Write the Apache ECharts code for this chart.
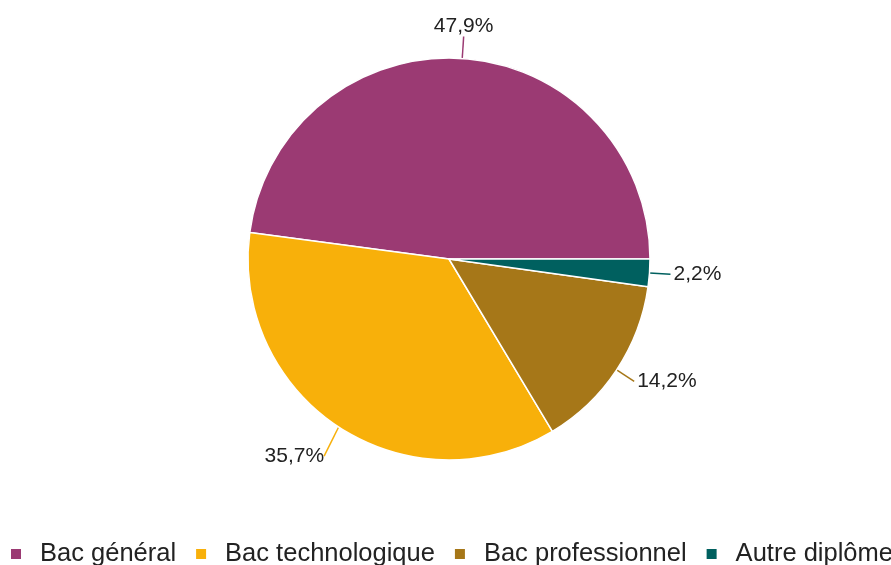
<!DOCTYPE html>
<html><head><meta charset="utf-8">
<script src="https://cdn.jsdelivr.net/npm/echarts@6/dist/echarts.min.js"></script>
<style>html,body{margin:0;padding:0;background:#fff}#c{width:891px;height:565px}</style>
</head><body><div id="c"></div>
<script>
var categories = ['Bac général', 'Bac technologique', 'Bac professionnel', 'Autre diplôme'];
var values = [47.9, 35.7, 14.2, 2.2];
var colors = ['#9b3a73', '#f8b00a', '#a67718', '#00605f'];

var chart = echarts.init(document.getElementById('c'), null, {renderer: 'canvas'});
chart.setOption({
  animation: false,
  color: colors,
  legend: {
    data: categories,
    left: 4, top: 536, width: 3000,
    itemWidth: 12, itemHeight: 12, itemGap: 18,
    icon: 'rect',
    textStyle: {fontFamily: 'Liberation Sans, Arial', fontSize: 25.5, color: '#222', padding: [0, 0, 0, 13]}
  },
  series: [{
    type: 'pie',
    center: [449, 259],
    radius: [0, 201],
    startAngle: 0,
    clockwise: false,
    avoidLabelOverlap: false,
    itemStyle: {borderColor: '#fff', borderWidth: 1.5},
    label: {
      show: true,
      formatter: function (p) { return p.value.toFixed(1).replace('.', ',') + '%'; },
      fontFamily: 'Liberation Sans, Arial', fontSize: 21, color: '#222',
      distanceToLabelLine: 3
    },
    labelLine: {show: true, length: 21, length2: 0, smooth: false, lineStyle: {width: 1.5}},
    labelLayout: function (p) {
      var pts = p.labelLinePoints;
      if (!pts) return;
      var e = pts[pts.length - 1];
      if (p.dataIndex === 0) {
        return {x: e[0], y: e[1] - 1, align: 'center', verticalAlign: 'bottom'};
      }
      if (p.dataIndex === 1) {
        return {x: e[0] - 3, y: e[1] + 1, align: 'right', verticalAlign: 'top'};
      }
    },
    data: categories.map(function (c, i) { return {name: c, value: values[i]}; })
  }]
});
</script></body></html>
